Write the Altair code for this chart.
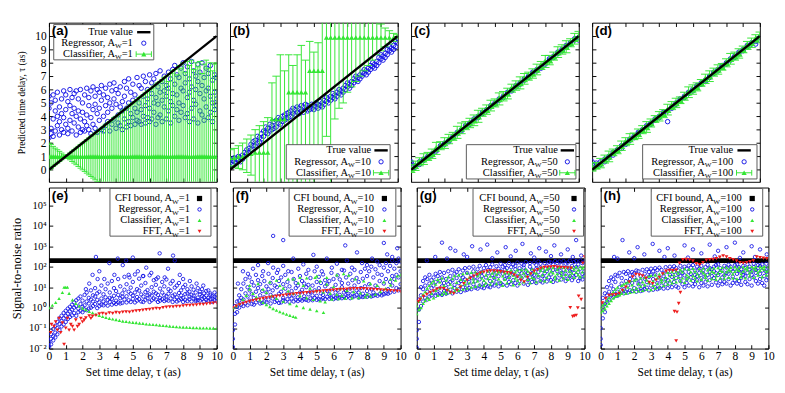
import altair as alt
import pandas as pd

BLUE = "#1414e6"
GREEN = "#33e633"
RED = "#ee1c1c"
SERIF = "Liberation Serif"
SANS = "Liberation Sans"

# ---------------- data ----------------
XQ = [0, 0.25, 0.5, 0.75, 1, 1.25, 1.5, 1.75, 2, 2.25, 2.5, 2.75, 3, 3.25, 3.5, 3.75,
      4, 4.25, 4.5, 4.75, 5, 5.25, 5.5, 5.75, 6, 6.25, 6.5, 6.75, 7, 7.25, 7.5, 7.75,
      8, 8.25, 8.5, 8.75, 9, 9.25, 9.5, 9.75, 10]
X8 = [0, 0.125, 0.25, 0.375, 0.5, 0.625, 0.75, 0.875, 1, 1.125, 1.25, 1.375, 1.5, 1.625,
      1.75, 1.875, 2, 2.125, 2.25, 2.375, 2.5, 2.625, 2.75, 2.875, 3, 3.125, 3.25, 3.375,
      3.5, 3.625, 3.75, 3.875, 4, 4.125, 4.25, 4.375, 4.5, 4.625, 4.75, 4.875, 5, 5.125,
      5.25, 5.375, 5.5, 5.625, 5.75, 5.875, 6, 6.125, 6.25, 6.375, 6.5, 6.625, 6.75, 6.875,
      7, 7.125, 7.25, 7.375, 7.5, 7.625, 7.75, 7.875, 8, 8.125, 8.25, 8.375, 8.5, 8.625,
      8.75, 8.875, 9, 9.125, 9.25, 9.375, 9.5, 9.625, 9.75, 9.875, 10]
XF = [0, 0.2, 0.4, 0.6, 0.8, 1, 1.2, 1.4, 1.6, 1.8, 2, 2.2, 2.4, 2.6, 2.8, 3, 3.2, 3.4,
      3.6, 3.8, 4, 4.2, 4.4, 4.6, 4.8, 5, 5.2, 5.4, 5.6, 5.8, 6, 6.2, 6.4, 6.6, 6.8, 7,
      7.2, 7.4, 7.6, 7.8, 8, 8.2, 8.4, 8.6, 8.8, 9, 9.2, 9.4, 9.6, 9.8, 10]

TRUE_X = [0, 10]
TRUE_Y = [0, 10]
CFI_X = [0, 10]
CFI_Y = [200, 200]

# (a) A_W = 1  (rows follow X8)
REG_A = [[2.4,4.6,5.5],[3.1,5.0,2.7],[3.8,5.6,2.5],[4.4,2.9,5.2],[3.3,5.8,4.0],[2.6,4.7,3.6],
         [5.3,3.0,4.2],[2.8,5.9,3.9],[4.5,3.4,5.6],[3.1,5.1,2.7],[4.8,3.7,6.0],[2.9,4.2,5.4],
         [3.5,5.7,4.6],[2.6,4.0,5.9],[4.4,3.2,5.3],[3.8,6.0,2.8],[5.0,3.0,4.3],[2.9,5.6,3.6],
         [4.1,6.1,3.3],[3.0,4.8,5.4],[5.9,3.9,2.7],[3.4,4.5,6.2],[4.9,3.1,5.5],[2.8,4.2,6.0],
         [3.7,5.8,4.6],[5.2,3.0,6.3],[4.0,2.9,5.6],[3.3,6.1,4.8],[5.4,3.6,4.3],[2.9,6.4,5.0],
         [4.6,3.4,5.9],[3.8,5.3,6.5],[3.1,4.9,6.0],[5.7,4.1,3.5],[3.3,6.2,4.7],[4.4,5.1,3.0],
         [6.6,3.8,5.5],[3.2,4.6,6.1],[5.0,3.6,6.8],[4.2,5.8,3.3],[3.9,6.4,5.2],[5.6,3.4,4.6],
         [4.3,6.9,3.7],[3.6,5.0,6.3],[6.1,4.5,3.4],[4.0,5.5,7.0],[3.5,6.6,4.8],[5.3,3.9,6.0],
         [4.6,7.1,3.6],[3.8,5.7,6.5],[6.8,4.3,5.0],[3.4,5.4,7.2],[4.9,6.2,3.9],[5.8,4.1,7.4],
         [3.6,6.6,5.2],[4.7,7.0,5.9],[6.3,3.8,5.5],[4.4,7.3,6.1],[5.1,3.5,6.8],[7.5,4.8,5.7],
         [4.0,6.4,7.8],[5.6,4.5,7.1],[3.7,6.9,5.0],[6.1,7.6,4.3],[4.8,5.9,8.0],[3.9,7.2,6.5],
         [5.4,4.2,7.7],[6.8,3.6,5.8],[4.6,8.1,6.2],[5.2,3.8,7.4],[7.0,4.9,6.0],[3.5,6.6,7.9],
         [5.7,4.4,7.3],[4.1,6.3,8.0],[6.9,3.7,5.3],[4.7,7.6,5.9],[3.9,6.1,7.2],[5.5,4.3,7.8],
         [6.7,3.6,5.0],[4.5,7.1,5.8],[4.8,5.3,6.9]]
CLS_A_ERR = [1.0,0.9,0.75,0.62,0.5,0.38,0.25,0.12,0.05,0.12,0.25,0.38,0.5,0.62,0.75,0.88,
             1.0,1.12,1.25,1.38,1.5,1.62,1.75,1.88,2.0,2.1,2.25,2.4,2.5,2.6,2.75,2.9,3.0,
             3.1,3.25,3.4,3.5,3.6,3.75,3.9,4.0,4.1,4.25,4.4,4.5,4.6,4.75,4.9,5.0,5.1,5.25,
             5.4,5.5,5.6,5.75,5.9,6.0,5.6,6.2,6.4,6.5,6.1,6.8,6.6,7.0,6.3,7.1,6.8,7.2,6.5,
             7.0,6.7,7.1,6.2,6.9,7.2,6.6,7.0,6.4,6.9,7.0]
CLS_A_Y = [1.0 for _ in X8]

# (b) A_W = 10
REG_B = [[0.5,0.8],[0.7,0.4],[0.6,0.9],[0.8,0.5],[0.7,1.0],[0.9,0.6],[1.1,0.8],[1.0,1.3],
         [1.2,1.5],[1.6,1.3],[1.5,1.9],[1.8,2.1],[2.2,1.8],[2.0,2.5],[2.4,2.1],[2.7,2.3],
         [2.5,2.9],[2.8,3.2],[3.1,2.7],[2.9,3.4],[3.3,3.0],[3.6,3.1],[3.2,3.7],[3.5,3.9],
         [3.8,3.4],[3.6,4.0],[4.1,3.7],[3.8,4.2],[4.3,3.9],[4.0,4.4],[4.2,4.6],[4.5,4.1],
         [4.3,4.7],[4.6,4.2],[4.4,4.8],[4.7,4.3],[4.5,4.9],[4.4,4.8],[4.7,4.5],[4.6,4.9],
         [4.8,4.5],[4.7,5.0],[4.9,4.6],[4.8,5.1],[5.0,4.7],[5.2,4.9],[5.1,5.4],[5.3,5.0],
         [5.5,5.2],[5.4,5.7],[5.6,5.3],[5.8,5.5],[5.7,6.0],[5.9,5.6],[6.1,5.8],[6.0,6.3],
         [6.2,6.5],[6.4,6.1],[6.6,6.3],[6.5,6.8],[6.7,7.0],[6.9,6.6],[7.1,6.8],[7.0,7.3],
         [7.2,7.5],[7.4,7.1],[7.6,7.3],[7.5,7.8],[7.7,8.0],[7.9,7.6],[8.1,7.8],[8.0,8.4],
         [8.3,8.6],[8.5,8.2],[8.7,8.4],[8.6,9.0],[8.9,9.2],[9.1,8.8],[9.3,9.0],[9.2,9.6],
         [9.5,9.8]]
CLS_B_Y = [0.9,0.9,1.0,1.0,1.1,1.2,1.3,1.3,1.3,1.3,3.8,3.8,3.8,3.8,5.8,5.8,5.8,5.8,5.8,7.4,7.4,
           7.4,7.4,9.9,9.9,9.9,9.9,9.9,9.9,9.9,9.9,9.9,9.9,9.9,9.9,9.9,9.9,9.9,9.9,9.9,10.0]
CLS_B_LO = [0.3,0.2,0.1,0.0,-0.2,-0.4,-1.0,-1.0,-1.0,-1.0,-1.0,-1.0,-1.0,-1.0,-1.0,-1.0,-1.0,
            -1.0,-1.0,-1.0,-1.0,0.5,1.2,2.5,-1.0,3.8,4.6,5.0,5.8,6.2,6.6,7.0,7.4,7.8,8.2,8.6,
            8.9,9.2,9.4,9.6,9.8]
CLS_B_HI = [1.5,1.6,1.8,2.0,2.3,2.6,3.0,3.3,3.6,3.9,6.5,7.0,8.6,7.4,8.6,7.8,8.6,9.3,8.2,9.6,
            8.8,9.5,12,12,12,12,12,12,12,12,12,12,12,12,11.5,11.2,10.9,10.6,10.4,10.2,10.1]

# (c) A_W = 50  (rows follow XQ)
REG_C_Y1 = [0.5,0.2,0.4,0.7,0.9,1.2,1.4,1.7,1.9,2.2,2.4,2.7,3.0,3.2,3.4,3.7,4.0,4.2,4.4,4.7,
            5.0,5.2,5.5,5.7,5.9,6.2,6.5,6.7,6.9,7.2,7.5,7.6,7.9,8.2,8.4,8.7,9.0,9.2,9.5,9.7,9.9]
REG_C_Y2 = [0.6,0.3,0.6,0.8,1.0,1.1,1.5,1.8,2.0,2.1,2.5,2.8,2.9,3.3,3.5,3.8,3.9,4.3,4.5,4.8,
            4.9,5.3,5.4,5.8,6.0,6.3,6.4,6.8,7.0,7.3,7.4,7.7,8.0,8.3,8.5,8.8,8.9,9.3,9.4,9.8,9.7]
CLS_C_Y = [0.1,0.3,0.6,0.8,1.0,1.2,1.6,1.8,2.0,2.3,2.5,2.8,3.1,3.3,3.5,3.7,4.0,4.3,4.5,4.8,
           5.0,5.3,5.5,5.7,6.1,6.3,6.5,6.8,7.0,7.2,7.5,7.8,8.1,8.2,8.5,8.8,9.0,9.2,9.5,9.8,10.0]
CLS_C_ERR = [0.3,0.35,0.3,0.4,0.3,0.35,0.45,0.3,0.4,0.35,0.3,0.45,0.4,0.3,0.35,0.4,0.45,0.3,
             0.35,0.4,0.3,0.45,0.35,0.4,0.3,0.35,0.45,0.4,0.3,0.35,0.4,0.3,0.45,0.35,0.3,0.4,
             0.35,0.45,0.3,0.4,0.35]

# (d) A_W = 100  (rows follow XQ)
REG_D_Y1 = [0.6,0.3,0.4,0.6,0.9,1.1,1.4,1.6,1.9,2.2,2.4,2.7,2.9,3.2,3.5,3.7,3.9,4.2,4.4,4.7,
            4.9,5.2,5.5,5.7,5.9,6.2,6.4,6.7,7.0,7.2,7.4,7.7,7.9,8.2,8.5,8.7,8.9,9.2,9.4,9.6,9.7]
REG_D_Y2 = [0.4,0.5,0.6,0.8,1.0,1.3,1.5,1.8,2.0,2.3,2.5,2.8,3.0,3.3,3.4,3.8,4.0,4.3,3.6,4.6,
            5.0,5.3,5.4,5.8,6.0,6.3,6.5,6.6,6.9,7.3,7.5,7.8,8.0,8.3,8.4,8.8,9.0,9.3,9.5,9.4,9.9]
CLS_D_Y = [0.2,0.3,0.5,0.8,1.0,1.3,1.5,1.8,2.1,2.3,2.5,2.7,3.0,3.2,3.5,3.8,4.0,4.2,4.5,4.8,
           5.0,5.2,5.5,5.8,6.0,6.2,6.5,6.8,7.0,7.3,7.5,7.7,8.0,8.3,8.5,8.7,9.0,9.3,9.5,9.8,10.0]
CLS_D_ERR = [0.3,0.25,0.35,0.3,0.4,0.25,0.3,0.35,0.3,0.4,0.25,0.35,0.3,0.4,0.3,0.25,0.35,0.3,
             0.4,0.3,0.35,0.25,0.3,0.4,0.35,0.3,0.25,0.35,0.4,0.3,0.35,0.25,0.3,0.4,0.3,0.35,
             0.25,0.3,0.35,0.3,0.3]

# (e) A_W = 1, SNR  (rows follow X8)
REG_E = [[0.011,0.02,0.014],[0.016,0.03,0.05],[0.04,0.025,0.09],[0.06,0.13,0.035],
         [0.1,0.05,0.2],[0.16,0.08,0.3],[0.12,0.4,0.22],[0.3,0.15,0.55],[0.2,0.7,0.4],
         [0.5,0.28,0.9],[0.35,1.1,0.65],[0.8,0.42,1.4],[0.55,1.8,1.0],[0.4,1.2,2.3],
         [0.9,0.6,2.8],[1.5,0.7,3.5],[0.6,2.2,1.1],[1.3,4.2,0.8],[0.75,2.0,5.5],[1.6,3.0,0.9],
         [2.5,1.0,7.0],[1.2,4.0,2.0],[3.5,1.5,9.0],[0.95,2.4,5.0],[1.8,6.0,1.2],[2.8,1.4,12],
         [4.5,2.0,1.3],[1.6,3.2,8.0],[2.4,15,1.25],[5.5,1.9,3.0],[1.4,2.7,20],[3.8,9.0,1.7],
         [2.2,6.5,1.5],[4.2,1.8,25],[2.9,11,1.6],[1.7,5.0,3.4],[7.5,2.5,32],[3.6,1.8,14],
         [2.3,6.0,40],[4.8,1.9,9.5],[2.7,18,3.9],[1.8,5.5,42],[3.3,8.0,2.2],[6.8,2.6,26],
         [2.0,4.4,12],[3.5,35,1.9],[5.8,2.4,16],[2.9,7.2,4.0],[1.9,4.5,38],[3.9,10,2.3],
         [6.0,2.8,22],[2.5,5.0,13],[4.2,1.9,30],[3.0,8.5,2.2],[5.5,2.6,18],[2.1,4.0,11],
         [3.6,24,2.4],[4.8,2.2,8.0],[2.8,6.5,15],[1.9,3.8,20],[4.4,2.5,9.5],[3.2,12,2.0],
         [2.3,5.2,16],[4.0,2.7,7.0],[3.0,10,1.9],[2.4,4.6,13],[5.0,2.1,8.0],[3.4,2.6,6.0],
         [2.0,4.2,11],[3.8,2.8,7.5],[2.5,5.5,2.1],[3.1,9.0,2.3],[4.5,2.2,6.0],[2.7,3.6,8.0],
         [2.0,5.0,3.2],[3.9,2.4,6.5],[2.2,3.0,7.0],[4.2,2.6,5.0],[2.8,1.9,3.6],[3.4,2.3,5.5],
         [2.1,3.0,4.4]]
REG_E_OUT_X = [2.2,2.4,2.6,2.8,2.9,3.0,3.3,3.6,3.9,4.1,4.4,4.6,4.8,5.0,5.3,5.6,5.8,6.1,6.4,
               6.6,6.9,7.1,7.4,7.5,7.8,8.0,8.4,8.8,9.2]
REG_E_OUT_Y = [8,15,40,300,25,60,25,150,40,250,120,200,30,280,60,35,90,50,25,450,30,80,350,
               200,40,25,20,15,12]
CLS_E_X = [0,0.2,0.4,0.6,0.8,0.9,1.0,1.1,1.2,1.4,1.6,1.8,2.0,2.2,2.4,2.6,2.8,3.0,3.2,3.4,3.6,
           3.8,4.0,4.2,4.4,4.6,4.8,5.0,5.2,5.4,5.6,5.8,6.0,6.2,6.4,6.6,6.8,7.0,7.2,7.4,7.6,7.8,
           8.0,8.2,8.4,8.6,8.8,9.0,9.2,9.4,9.6,9.8,10.0]
CLS_E_Y = [1.0,1.3,1.8,2.8,5.5,10,10,10,5,2.4,1.6,1.2,0.95,0.8,0.65,0.56,0.48,0.42,0.37,0.33,
           0.3,0.28,0.26,0.24,0.22,0.21,0.2,0.19,0.185,0.175,0.17,0.16,0.155,0.15,0.145,0.14,
           0.135,0.13,0.125,0.12,0.117,0.114,0.112,0.11,0.108,0.106,0.104,0.103,0.102,0.101,
           0.1,0.1,0.098]
FFT_E_X = [0.1,0.15,0.3,0.4,0.5,0.6,0.7,0.8,0.9,1.0,1.1,1.2,1.3,1.4,1.5,1.6,1.7,1.8,1.9,2.0,
           2.1,2.2,2.4,2.5,2.6,2.8,3.0,3.2,3.4,3.6,3.8,4.0,4.2,4.4,4.6,4.8,5.0,5.2,5.4,5.6,5.8,
           6.0,6.2,6.4,6.6,6.8,7.0,7.2,7.4,7.6,7.8,8.0,8.2,8.4,8.6,8.8,9.0,9.2,9.4,9.6,9.8,10.0]
FFT_E_Y = [0.06,0.15,0.12,0.2,0.08,0.3,0.06,0.18,0.016,0.1,0.3,0.08,0.15,0.12,0.08,0.25,0.12,
           0.15,0.3,0.2,0.25,0.32,0.4,0.3,0.38,0.42,0.5,0.52,0.48,0.55,0.52,0.58,0.56,0.6,0.62,
           0.6,0.66,0.7,0.72,0.75,0.8,0.82,0.88,0.92,0.9,1.0,1.05,1.1,1.08,1.15,1.15,1.22,1.28,
           1.3,1.32,1.38,1.45,1.45,1.52,1.6,1.65,1.7]

# (f) A_W = 10, SNR  (rows follow X8)
REG_F = [[0.012,0.03,0.08],[0.15,0.5,1.2],[0.6,2.0,1.1],[1.0,4.0,2.2],[1.4,8.0,3.0],
         [2.5,1.2,15],[5.0,1.6,25],[1.3,3.5,10],[7.0,2.2,30],[1.5,4.5,18],[3.0,12,1.4],
         [6.0,1.8,40],[2.4,9.0,22],[4.0,1.6,14],[1.7,6.5,35],[3.2,20,2.0],[5.5,1.8,11],
         [2.5,8.0,45],[1.6,4.2,16],[7.0,2.8,28],[3.5,1.9,12],[2.2,10,50],[4.8,1.7,20],
         [1.8,6.0,30],[3.0,14,2.3],[8.5,2.0,40],[2.6,5.0,18],[1.9,11,3.8],[6.5,2.8,55],
         [4.0,2.0,25],[2.4,9.0,16],[12,3.2,2.1],[5.5,2.5,35],[2.2,7.5,20],[3.6,15,2.6],
         [10,2.4,45],[4.5,2.2,13],[2.8,6.0,28],[2.3,12,4.0],[7.0,3.0,60],[3.8,2.4,18],
         [2.6,9.0,32],[5.0,16,2.5],[2.9,4.2,42],[11,2.6,22],[3.4,6.5,14],[2.7,20,4.5],
         [8.0,3.0,50],[3.6,2.6,25],[5.5,13,3.0],[2.8,7.0,38],[4.2,24,3.2],[10,2.9,16],
         [3.4,5.5,65],[6.5,3.0,30],[3.8,15,4.8],[2.9,8.5,45],[5.0,3.3,22],[12,3.6,70],
         [4.2,7.0,28],[3.1,18,5.5],[9.0,3.5,55],[4.8,26,3.3],[3.6,11,80],[6.5,3.4,35],
         [14,4.0,60],[3.5,8.0,100],[5.5,30,3.8],[4.2,12,75],[9.5,3.8,45],[4.6,20,120],
         [6.0,40,4.0],[15,4.5,90],[5.0,25,150],[8.0,60,4.8],[5.5,18,110],[12,35,200],
         [6.0,80,25],[9.0,150,40],[7.0,30,250],[14,60,180]]
REG_F_OUT_X = [0.3,0.6,0.9,1.2,1.5,1.8,2.1,2.4,2.4,2.7,3.0,3.0,3.3,3.6,3.9,4.2,4.5,4.8,5.0,
               5.3,5.6,5.9,6.2,6.5,6.7,6.8,7.1,7.4,7.7,8.0,8.3,8.6,9.0,9.2,9.5,9.8]
REG_F_OUT_Y = [15,60,45,80,120,60,150,3200,90,70,2000,110,60,250,80,130,70,380,100,60,250,90,
               140,70,1100,200,90,500,150,120,250,180,1450,400,300,800]
CLS_F_X = [1.0,1.2,1.4,1.6,1.8,2.0,2.2,2.4,2.6,2.8,3.0,3.2,3.4,3.6,3.75,
           1.8,2.0,2.3,2.6,3.0,3.4,3.8,4.2,4.6,5.0,5.4,
           2.8,3.0,3.3,3.6,4.0,4.4,4.8,5.2,5.5,
           3.6,3.9,4.2,4.6,5.0,5.4,5.8,6.2,6.5,
           4.9,5.2,5.6,6.0,6.4,6.8,7.2,7.6,8.0,
           5.9,6.3,6.7,7.1,7.5,7.9,8.2,8.5,8.8,9.1,9.4,9.7,10.0,
           0.0,0.2,0.4,0.6,0.8,1.0,1.5,2.2,2.6,3.3,4.0,4.4,5.0,5.6,6.2,6.6,6.9,7.3,7.8,8.2,
           8.6,9.0,9.4,9.8]
CLS_F_Y = [8,5,3.3,2.4,1.8,1.4,1.1,0.9,0.75,0.63,0.55,0.48,0.42,0.37,0.34,
           8,5.5,3.8,2.8,2.0,1.55,1.25,1.0,0.85,0.7,0.58,
           12,9,6.5,5,3.8,3.0,2.5,2.1,1.9,
           25,16,12,9,7,5.8,5,4.4,4.0,
           30,20,14,10.5,8.5,7,6,5.2,4.6,
           2.6,2.7,2.8,3.0,3.1,3.3,3.6,4.5,6,8.5,13,22,40,
           1.0,1.2,1.6,2.5,4,12,15,18,22,25,30,28,35,30,40,45,38,25,20,15,12,18,25,35]
FFT_F_Y = [1.0,1.2,1.4,1.6,1.8,2.0,2.2,2.4,2.6,2.8,3.0,3.2,3.4,3.6,3.8,4.0,4.2,4.4,4.6,4.8,
           5.0,5.2,5.4,5.6,5.8,6.0,6.2,6.5,6.7,7.0,7.2,7.5,7.7,7.9,8.1,8.3,8.4,8.5,8.5,8.4,
           8.2,8.0,7.8,7.6,7.4,7.2,7.0,6.8,6.6,6.4,6.2]

# (g) A_W = 50, SNR  (rows follow X8)
REG_G = [[0.011,0.03,0.08],[0.2,0.8,2.5],[1.2,4.0,10],[2.0,8.0,20],[3.0,12,30],[6.0,2.5,25],
         [15,3.5,40],[4.0,9.0,22],[30,5.5,12],[3.8,18,45],[8.0,35,4.5],[20,5.0,55],
         [11,4.2,30],[6.5,50,16],[25,4.8,9.0],[14,60,5.5],[7.5,35,18],[5.0,22,70],[45,9.0,13],
         [6.0,28,55],[16,75,8.0],[38,5.8,20],[10,65,30],[7.0,24,85],[50,12,7.5],[18,90,9.0],
         [8.0,40,28],[60,14,100],[9.5,32,20],[75,8.5,45],[24,110,12],[10,55,35],[85,16,9.0],
         [30,120,13],[11,48,70],[95,20,10],[40,14,130],[12,65,28],[105,18,50],[34,11,80],
         [60,140,16],[13,45,100],[25,120,70],[85,12,38],[150,30,18],[14,55,95],[42,130,22],
         [75,16,110],[12,35,160],[60,20,85],[140,28,48],[15,90,120],[38,170,65],[22,50,13],
         [100,30,150],[70,18,45],[160,40,25],[16,80,120],[55,180,32],[90,20,140],[35,70,17],
         [150,48,26],[19,110,60],[85,30,175],[42,160,22],[130,18,70],[28,95,190],[60,150,21],
         [180,38,85],[24,120,50],[70,190,32],[45,20,140],[160,90,26],[35,200,60],[110,22,75],
         [50,170,30],[190,40,95],[20,130,55],[80,28,200],[150,45,24],[60,180,35]]
REG_G_OUT_X = [0.6,1.1,1.5,2.0,2.3,2.8,3.3,3.8,4.2,4.8,5.3,5.9,6.3,6.8,7.3,7.7,8.2,8.6,9.0,
               9.5,9.8,1.8,3.0,4.5,5.6,7.0,8.0,9.3]
REG_G_OUT_Y = [200,300,1500,800,600,400,1000,700,1200,500,900,600,1300,450,800,550,1100,400,
               700,2000,350,250,300,260,320,280,330,300]
CLS_G = [[0.5,1.2],[0.8,2.0],[1.0,3.0],[1.6,4.5],[2.2,6.0],[3.0,9.0],[2.5,12],[5.0,16],
         [3.0,20],[7.0,14],[4.0,24],[9.0,18],[4.5,28],[12,6.0],[22,5.0],[8.0,32],[14,5.5],
         [26,10],[6.5,36],[17,9.0],[40,7.0],[12,24],[8.0,45],[20,14],[50,9.0],[16,30],
         [10,52],[25,18],[55,11],[20,36],[13,45],[28,58],[12,22],[40,16],[60,26],[14,34],
         [48,20],[30,62],[15,42],[25,55],[62,18],[35,12],[50,24],[16,65],[30,45],[68,20],
         [13,38],[55,28],[22,70],[42,15],[72,32],[18,50],[36,75],[60,24],[16,44],[78,30],
         [26,55],[48,18],[82,36],[22,65],[40,86],[58,20],[30,75],[88,44],[19,60],[50,90],
         [34,25],[72,45],[22,92],[55,38],[94,28],[42,68],[24,95],[60,36],[96,48],[30,75],
         [52,98],[40,70],[100,32],[55,85],[35,100]]
FFT_G_X = [0.1,0.2,0.4,0.6,0.8,1.0,1.2,1.4,1.6,1.8,2.0,2.2,2.4,2.6,2.8,3.0,3.2,3.4,3.6,3.8,
           4.0,4.2,4.4,4.6,4.8,5.0,5.2,5.4,5.6,5.8,6.0,6.2,6.4,6.6,6.8,7.0,7.2,7.4,7.6,7.8,
           8.0,8.2,8.4,8.6,8.8,9.0,9.2,9.15,9.3,9.4,9.5,9.6,9.65,9.8,9.9,10.0]
FFT_G_Y = [2,2.5,3.5,4.5,5.5,6.5,8,9,8.5,7,5.5,5,7,10,15,22,28,35,42,50,55,60,63,62,60,58,
           55,52,48,40,32,22,18,30,45,60,72,85,92,95,98,100,95,92,90,88,85,1.0,0.37,0.4,0.42,
           0.97,3.7,2.5,150,300]

# (h) A_W = 100, SNR  (rows follow X8)
REG_H = [[0.015,0.03,0.1],[0.3,1.0,3.0],[1.5,5.0,0.6],[2.0,10,4.0],[2.5,20,6.0],[4.0,12,30],
         [3.2,8.0,25],[18,4.5,40],[6.0,35,3.8],[10,4.8,50],[28,5.5,15],[8.0,55,5.0],
         [20,6.0,45],[5.5,12,60],[38,7.0,25],[6.5,16,55],[48,9.0,30],[6.0,22,65],[14,60,7.5],
         [35,6.5,20],[7.0,70,11],[26,45,8.0],[9.5,18,75],[55,7.0,32],[12,80,40],[7.5,25,60],
         [42,10,85],[16,68,8.0],[30,9.0,90],[70,20,12],[8.5,48,35],[95,14,25],[22,60,9.0],
         [40,100,15],[10,32,75],[55,18,105],[28,85,11],[9.5,45,65],[110,20,35],[14,70,50],
         [38,10,100],[80,25,16],[12,55,115],[45,30,90],[20,120,11],[65,14,40],[100,35,22],
         [10,50,80],[28,110,16],[70,12,45],[18,95,30],[125,40,11],[55,22,85],[13,75,35],
         [100,28,60],[17,48,120],[40,130,12],[85,20,55],[14,65,30],[110,38,18],[50,15,90],
         [25,125,45],[70,12,100],[33,58,16],[120,22,80],[15,45,130],[60,95,20],[28,13,75],
         [110,40,55],[18,85,35],[50,130,14],[75,25,100],[12,60,40],[95,30,140],[20,70,50],
         [120,15,85],[45,110,25],[16,65,130],[80,35,12],[55,140,22],[30,90,60]]
REG_H_OUT_X = [0.8,1.3,1.7,2.2,2.6,3.1,3.5,4.0,4.4,5.0,5.5,6.0,6.5,7.0,7.5,8.0,8.5,9.0,9.5,
               9.9,1.0,2.0,3.8,5.2,6.8,8.3,9.2]
REG_H_OUT_Y = [300,2000,500,900,400,1300,600,800,350,1100,700,450,1200,600,900,1500,500,1000,
               700,400,250,260,300,280,320,270,300]
CLS_H = [[0.6,1.0],[0.7,1.3],[0.9,1.6],[1.2,2.2],[1.6,3.0],[2.2,4.5],[3.0,6.0],[3.5,8.0],
         [4.0,10],[6.5,4.2],[12,5.0],[7.5,14],[5.0,16],[10,18],[5.5,20],[13,8.0],[22,6.0],
         [9.0,25],[15,6.5],[28,11],[7.0,18],[30,13],[8.0,22],[34,16],[7.5,37],[20,12],
         [40,9.0],[15,28],[44,10],[24,18],[48,12],[30,20],[14,52],[36,22],[57,16],[26,40],
         [62,18],[30,48],[20,70],[55,28],[17,80],[40,25],[75,32],[22,55],[82,36],[28,60],
         [45,20],[80,34],[24,62],[50,85],[30,40],[70,22],[88,45],[26,60],[52,86],[35,24],
         [90,48],[28,65],[58,92],[40,26],[95,55],[30,70],[62,93],[44,28],[98,58],[26,75],
         [65,96],[46,32],[100,60],[28,80],[70,98],[50,35],[100,62],[30,85],[72,102],[54,38],
         [100,66],[32,88],[75,104],[58,40],[100,68]]
FFT_H_X = [0.1,0.3,0.5,0.7,0.9,1.1,1.3,1.5,1.7,1.9,2.1,2.3,2.5,2.7,2.9,3.1,3.3,3.5,3.7,3.9,
           4.1,4.3,4.5,4.7,4.9,5.1,5.3,5.5,5.7,5.9,6.1,6.3,6.5,6.7,6.9,7.1,7.3,7.5,7.7,7.9,
           8.1,8.3,8.5,8.7,8.9,9.1,9.3,9.5,9.7,9.9,4.4,4.5,4.55,4.65,4.75]
FFT_H_Y = [1.7,2.8,4,4.2,4.3,5,7,10,18,32,42,40,36,28,17,15,22,30,45,60,66,65,68,150,220,
           225,215,190,140,125,160,210,220,230,250,290,340,300,250,220,190,160,150,160,175,
           200,300,280,260,250,0.65,0.024,0.6,1.6,5.5]

# ---------------- helpers ----------------
W, HT, HB = 176, 167, 169
LOG_TICKS = [0.01, 0.1, 1, 10, 100, 1000, 10000, 100000]
ONE = pd.DataFrame({"k": [0]})


def xy(xs, ys):
    n = min(len(xs), len(ys))
    return pd.DataFrame({"x": list(xs)[:n], "y": list(ys)[:n]})


def flat(xs, rows):
    X, Y = [], []
    for x, r in zip(xs, rows):
        for v in r:
            X.append(x)
            Y.append(v)
    return xy(X, Y)


def xsc():
    return alt.Scale(domain=[0, 10], nice=False, zero=False)


def ysc(log):
    if log:
        return alt.Scale(type="log", domain=[0.01, 740000], nice=False)
    return alt.Scale(domain=[-0.9, 11], nice=False, zero=False)


def axes(df, log, left_labels, bottom_labels, ytitle, xtitle):
    base = dict(grid=False, domain=False, ticks=True, tickSize=4, tickColor="black",
                tickWidth=1, offset=-4, labelFont=SERIF, labelColor="black",
                titleFont=SERIF, titleColor="black", titleFontWeight="normal",
                labelOverlap=False)
    yvals = LOG_TICKS if log else list(range(11))
    lk = dict(orient="left", values=yvals, labels=left_labels,
              labelFontSize=11 if log else 12, labelPadding=3,
              titleFontSize=13 if log else 10, titlePadding=6 if log else 9, **base)
    if log:
        lk["labelExpr"] = ("'10' + ['\u207b\u00b2','\u207b\u00b9','\u2070','\u00b9','\u00b2',"
                           "'\u00b3','\u2074','\u2075'][round(log(datum.value)/LN10) + 2]")
    ax_l = alt.Axis(**lk)
    ax_b = alt.Axis(orient="bottom", values=list(range(11)), labels=bottom_labels,
                    labelFontSize=12, labelPadding=3, labelFlush=False,
                    titleFontSize=12, titlePadding=5, **base)
    ax_t = alt.Axis(orient="top", values=list(range(11)), labels=False, **base)
    ax_r = alt.Axis(orient="right", values=yvals, labels=False, **base)
    l1 = alt.Chart(df).mark_point(opacity=0).encode(
        x=alt.X("x:Q", scale=xsc(), axis=ax_b, title=xtitle if xtitle else None),
        y=alt.Y("y:Q", scale=ysc(log), axis=ax_l, title=ytitle if ytitle else None))
    l2 = alt.Chart(df).mark_point(opacity=0).encode(
        x=alt.X("x:Q", scale=xsc(), axis=ax_t, title=None),
        y=alt.Y("y:Q", scale=ysc(log), axis=ax_r, title=None))
    return [l1, l2]


def enc(ch, log, field="y"):
    return ch.encode(x=alt.X("x:Q", scale=xsc(), axis=None),
                     y=alt.Y(field + ":Q", scale=ysc(log), axis=None))


def txt(x, y, s, fs=11, align="right", font=SERIF, weight="normal", baseline="middle"):
    return alt.Chart(ONE).mark_text(text=s, align=align, baseline=baseline, font=font,
                                    fontSize=fs, fontWeight=weight, color="black").encode(
        x=alt.value(x), y=alt.value(y))


CW = {"=": 0.564, "0": 0.5, "1": 0.5, "5": 0.5}


def tw(s, fs):
    return sum(CW.get(c, 0.5) for c in s) * fs


def sym(kind, sx, y):
    out = []
    if kind == "line":
        out.append(alt.Chart(ONE).mark_rule(color="black", strokeWidth=2.5).encode(
            x=alt.value(sx - 7), x2=alt.value(sx + 7), y=alt.value(y)))
    elif kind in ("circle", "circle_s"):
        out.append(alt.Chart(ONE).mark_point(shape="circle", filled=False, color=BLUE,
                                             size=20 if kind == "circle" else 13,
                                             strokeWidth=1, opacity=1).encode(
            x=alt.value(sx), y=alt.value(y)))
    elif kind == "errbar":
        out.append(alt.Chart(ONE).mark_rule(color=GREEN, strokeWidth=1).encode(
            x=alt.value(sx - 8), x2=alt.value(sx + 8), y=alt.value(y)))
        for dx in (-8, 8):
            out.append(alt.Chart(ONE).mark_rule(color=GREEN, strokeWidth=1).encode(
                x=alt.value(sx + dx), y=alt.value(y - 3), y2=alt.value(y + 3)))
        out.append(alt.Chart(ONE).mark_point(shape="triangle-up", filled=True, color=GREEN,
                                             size=30, opacity=1).encode(
            x=alt.value(sx), y=alt.value(y)))
    elif kind == "square":
        out.append(alt.Chart(ONE).mark_point(shape="square", filled=True, color="black",
                                             size=30, opacity=1).encode(
            x=alt.value(sx), y=alt.value(y)))
    elif kind == "tri":
        out.append(alt.Chart(ONE).mark_point(shape="triangle-up", filled=True, color=GREEN,
                                             size=16, opacity=1).encode(
            x=alt.value(sx), y=alt.value(y)))
    elif kind == "tridown":
        out.append(alt.Chart(ONE).mark_point(shape="triangle-down", filled=True, color=RED,
                                             size=16, opacity=1).encode(
            x=alt.value(sx), y=alt.value(y)))
    return out


def legend(box, rows, te, sx):
    layers = [alt.Chart(ONE).mark_rect(fill="white", stroke="#555555", strokeWidth=1).encode(
        x=alt.value(box[0]), x2=alt.value(box[2]), y=alt.value(box[1]), y2=alt.value(box[3]))]
    for y, main, suffix, kind in rows:
        if suffix:
            sw = tw(suffix, 11)
            layers.append(txt(te, y, suffix))
            layers.append(txt(te - sw, y + 3.5, "W", fs=7.5))
            layers.append(txt(te - sw - 7, y, main))
        else:
            layers.append(txt(te, y, main))
        layers += sym(kind, sx, y)
    return layers


def top_panel(label, reg_df, cls_df, leg, left, tri=30, cap=36):
    layers = axes(reg_df, False, left, False,
                  "Predicted time delay, \u03c4 (as)" if left else None, None)
    layers.append(enc(alt.Chart(reg_df).mark_point(shape="circle", filled=False, color=BLUE,
                                                   size=22, strokeWidth=1, opacity=1,
                                                   clip=True), False))
    bars = alt.Chart(cls_df).mark_rule(color=GREEN, strokeWidth=1, clip=True).encode(
        x=alt.X("x:Q", scale=xsc(), axis=None),
        y=alt.Y("lo:Q", scale=ysc(False), axis=None), y2="hi:Q")
    layers.append(bars)
    for f in ("lo", "hi"):
        layers.append(enc(alt.Chart(cls_df).mark_point(shape="M -1 0 L 1 0", filled=False,
                                                       color=GREEN, size=cap, strokeWidth=1,
                                                       opacity=1, clip=True), False, f))
    layers.append(enc(alt.Chart(cls_df).mark_point(shape="triangle-up", filled=True,
                                                   color=GREEN, size=tri, opacity=1,
                                                   clip=True), False))
    layers.append(enc(alt.Chart(xy(TRUE_X, TRUE_Y)).mark_line(color="black", strokeWidth=2.5,
                                                             clip=True), False))
    box, ys, te, sx, suf = leg
    layers += legend(box, [(ys[0], "True value", None, "line"),
                           (ys[1], "Regressor, A", suf, "circle"),
                           (ys[2], "Classifier, A", suf, "errbar")], te, sx)
    layers.append(txt(3, 2, label, fs=14, align="left", font=SANS, weight="bold",
                      baseline="top"))
    return alt.layer(*layers).resolve_axis(x="independent", y="independent").properties(
        width=W, height=HT)


def bot_panel(label, reg_df, cls_df, fft_df, leg, left):
    layers = axes(reg_df, True, left, True, "Signal-to-noise ratio" if left else None,
                  "Set time delay, \u03c4 (as)")
    layers.append(enc(alt.Chart(xy(CFI_X, CFI_Y)).mark_line(color="black", strokeWidth=5,
                                                           clip=True), True))
    layers.append(enc(alt.Chart(reg_df).mark_point(shape="circle", filled=False, color=BLUE,
                                                   size=13, strokeWidth=0.9, opacity=1,
                                                   clip=True), True))
    layers.append(enc(alt.Chart(cls_df).mark_point(shape="triangle-up", filled=True,
                                                   color=GREEN, size=14, opacity=1,
                                                   clip=True), True))
    layers.append(enc(alt.Chart(fft_df).mark_point(shape="triangle-down", filled=True,
                                                   color=RED, size=16, opacity=1,
                                                   clip=True), True))
    box, te, sx, suf = leg
    ys = [11.5, 23, 34.5, 46]
    layers += legend(box, [(ys[0], "CFI bound, A", suf, "square"),
                           (ys[1], "Regressor, A", suf, "circle_s"),
                           (ys[2], "Classifier, A", suf, "tri"),
                           (ys[3], "FFT, A", suf, "tridown")], te, sx)
    layers.append(txt(3, 2, label, fs=14, align="left", font=SANS, weight="bold",
                      baseline="top"))
    return alt.layer(*layers).resolve_axis(x="independent", y="independent").properties(
        width=W, height=HB)


def cls_sym(xs, ys, errs):
    n = min(len(xs), len(ys), len(errs))
    return pd.DataFrame({"x": xs[:n], "y": ys[:n],
                         "lo": [ys[i] - errs[i] for i in range(n)],
                         "hi": [ys[i] + errs[i] for i in range(n)]})


def cls_lohi(xs, ys, lo, hi):
    n = min(len(xs), len(ys), len(lo), len(hi))
    return pd.DataFrame({"x": xs[:n], "y": ys[:n], "lo": lo[:n], "hi": hi[:n]})


reg_c = pd.concat([xy(XQ, REG_C_Y1), xy(XQ, REG_C_Y2)], ignore_index=True)
reg_d = pd.concat([xy(XQ, REG_D_Y1), xy(XQ, REG_D_Y2)], ignore_index=True)

pa = top_panel("(a)", flat(X8, REG_A), cls_sym(X8, CLS_A_Y, CLS_A_ERR),
               ((5, 2, 110, 39), (10, 21.5, 33), 88, 99.5, "=1"), True)
pb = top_panel("(b)", flat(X8, REG_B), cls_lohi(XQ, CLS_B_Y, CLS_B_LO, CLS_B_HI),
               ((59, 128, 168, 164), (134, 146, 157.5), 148, 158.5, "=10"), False, cap=64)
pc = top_panel("(c)", reg_c, cls_sym(XQ, CLS_C_Y, CLS_C_ERR),
               ((58, 128, 173, 164), (134, 146, 157.5), 154, 164, "=50"), False,
               tri=64, cap=81)
pd_ = top_panel("(d)", reg_d, cls_sym(XQ, CLS_D_Y, CLS_D_ERR),
                ((53, 128, 173, 164), (134, 146, 157.5), 148, 159.5, "=100"), False,
                tri=64, cap=81)

reg_e = pd.concat([flat(X8, REG_E), xy(REG_E_OUT_X, REG_E_OUT_Y)], ignore_index=True)
reg_f = pd.concat([flat(X8, REG_F), xy(REG_F_OUT_X, REG_F_OUT_Y)], ignore_index=True)
reg_g = pd.concat([flat(X8, REG_G), xy(REG_G_OUT_X, REG_G_OUT_Y)], ignore_index=True)
reg_h = pd.concat([flat(X8, REG_H), xy(REG_H_OUT_X, REG_H_OUT_Y)], ignore_index=True)

pe = bot_panel("(e)", reg_e, xy(CLS_E_X, CLS_E_Y), xy(FFT_E_X, FFT_E_Y),
               ((64, 1, 170, 51), 148, 158, "=1"), True)
pf = bot_panel("(f)", reg_f, xy(CLS_F_X, CLS_F_Y), xy(XF, FFT_F_Y),
               ((59, 1, 171, 51), 148, 159, "=10"), False)
pg = bot_panel("(g)", reg_g, flat(X8, CLS_G), xy(FFT_G_X, FFT_G_Y),
               ((59, 1, 175, 51), 150, 165, "=50"), False)
ph = bot_panel("(h)", reg_h, flat(X8, CLS_H), xy(FFT_H_X, FFT_H_Y),
               ((53, 1, 170, 51), 148, 159, "=100"), False)

top = alt.hconcat(pa, pb, pc, pd_, spacing=6)
bot = alt.hconcat(pe, pf, pg, ph, spacing=6)
chart = alt.vconcat(top, bot, spacing=4).properties(
    padding={"left": 2, "top": 5, "right": 2, "bottom": 2}
).configure_view(stroke="black", strokeWidth=1)

chart.save("out.html", embed_options={"renderer": "svg", "actions": False})
